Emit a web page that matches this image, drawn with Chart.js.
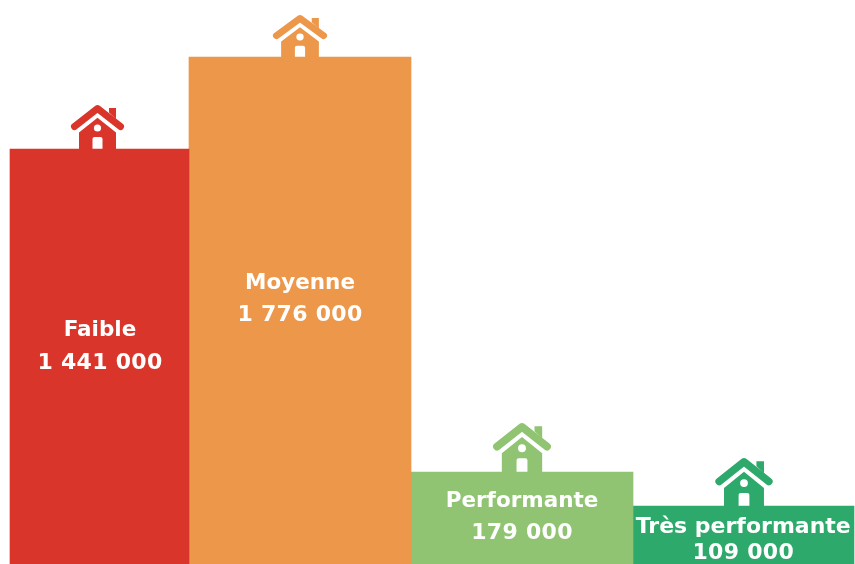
<!DOCTYPE html>
<html lang="fr"><head><meta charset="utf-8">
<style>html,body{margin:0;padding:0;background:#fff}#w{width:855px;height:564px;position:relative}</style>
<script src="https://cdn.jsdelivr.net/npm/chart.js@4"></script>
</head><body><div id="w"><canvas id="c" width="855" height="564"></canvas></div>
<script>
const categories = ["Faible", "Moyenne", "Performante", "Très performante"];
const valueLabels = ["1 441 000", "1 776 000", "179 000", "109 000"];
const drawnHeights = [415, 507, 92, 58];
const barCentres = [99.5, 300, 522, 743.25];
const barColours = ["#DA352A", "#EC9749", "#90C472", "#2DAA6B"];
const barWidths = [179, 222, 222, 221.5];
const firstBaseline = [187, 232, 34.5, 27];
const secondBaseline = [219.5, 264, 67, 52.5];
const nameFontSizes = [21.5, 21.5, 21.5, 22];
const houseCentres = [97.5, 300, 522, 744];
const houseRise = [44, 42, 49, 48];
const houseScaleX = [1, 1.02, 1.09, 1.08];
const houseScaleY = [1, 0.96, 1.1, 1.09];

const housePlugin = {
  id: "houses",
  beforeDatasetsDraw(chart) {
    const {ctx, scales: {x, y}} = chart;
    categories.forEach((name, i) => {
      const top = y.getPixelForValue(drawnHeights[i]);
      const cx = x.getPixelForValue(houseCentres[i]);
      const col = barColours[i];
      ctx.save();
      ctx.translate(cx, top - houseRise[i]);
      ctx.scale(houseScaleX[i], houseScaleY[i]);
      ctx.fillStyle = col; ctx.strokeStyle = col;
      // roof
      ctx.lineWidth = 7; ctx.lineCap = "round"; ctx.lineJoin = "round";
      ctx.beginPath(); ctx.moveTo(-23, 21.5); ctx.lineTo(0, 3.5); ctx.lineTo(23, 21.5); ctx.stroke();
      // chimney
      ctx.beginPath(); ctx.moveTo(11.5, 3); ctx.lineTo(18.5, 3); ctx.lineTo(18.5, 14); ctx.lineTo(11.5, 7.5); ctx.closePath(); ctx.fill();
      // body
      ctx.beginPath(); ctx.moveTo(0, 12.7); ctx.lineTo(18.5, 27.5); ctx.lineTo(18.5, 60); ctx.lineTo(-18.5, 60); ctx.lineTo(-18.5, 27.5); ctx.closePath(); ctx.fill();
      // window and door
      ctx.fillStyle = "#fff";
      ctx.beginPath(); ctx.arc(0, 23, 3.6, 0, Math.PI * 2); ctx.fill();
      ctx.beginPath(); ctx.roundRect(-5, 32, 10, 28, 2); ctx.fill();
      ctx.restore();
    });
  },
  afterDatasetsDraw(chart) {
    const {ctx, scales: {x, y}} = chart;
    categories.forEach((name, i) => {
      const top = y.getPixelForValue(drawnHeights[i]);
      const tx = x.getPixelForValue(barCentres[i]) + (i === 0 ? 0.5 : 0);
      ctx.save();
      ctx.fillStyle = "#fff"; ctx.textAlign = "center"; ctx.textBaseline = "alphabetic";
      ctx.font = "bold " + nameFontSizes[i] + "px 'DejaVu Sans'";
      ctx.fillText(name, tx, top + firstBaseline[i]);
      ctx.font = "bold 22px 'DejaVu Sans'";
      ctx.letterSpacing = "0.3px";
      ctx.fillText(valueLabels[i], tx, top + secondBaseline[i]);
      ctx.restore();
    });
  }
};

new Chart(document.getElementById("c"), {
  type: "bar",
  plugins: [housePlugin],
  data: {
    datasets: categories.map((name, i) => ({
      label: name,
      data: [{x: barCentres[i], y: drawnHeights[i]}],
      backgroundColor: barColours[i],
      barThickness: barWidths[i],
      grouped: false,
      borderWidth: 0
    }))
  },
  options: {
    responsive: false,
    animation: false,
    layout: {padding: 0},
    plugins: {legend: {display: false}, title: {display: false}, tooltip: {enabled: false}},
    scales: {
      x: {type: "linear", min: 0, max: 855, display: false, offset: false},
      y: {type: "linear", min: 0, max: 564, display: false}
    }
  }
});
</script></body></html>
